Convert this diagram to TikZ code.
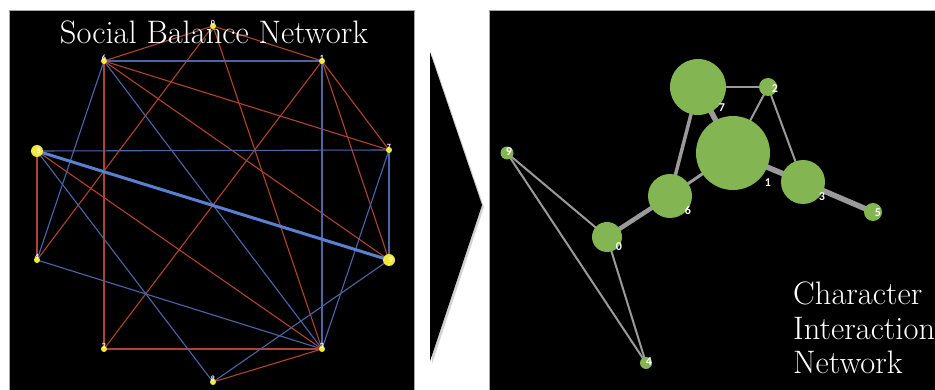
\documentclass[tikz,border=0pt]{standalone}
\usepackage{fontspec}
\setsansfont{Carlito}
\usetikzlibrary{calc}
\pgfdeclarelayer{bg}
\pgfdeclarelayer{edges}
\pgfsetlayers{bg,edges,main}
\definecolor{redE}{HTML}{B0432B}
\definecolor{blueE}{HTML}{4A66A8}
\definecolor{blueT}{HTML}{5A80D2}
\definecolor{ynode}{HTML}{F2EA3A}
\definecolor{gnode}{HTML}{84B553}
\definecolor{grayE}{HTML}{9A9A9A}
\tikzset{
  ynd/.style={circle,fill=ynode,inner sep=0pt,minimum size=6pt},
  ybig/.style={circle,fill=ynode,inner sep=0pt,minimum size=12pt},
  llab/.style={text=white,font=\sffamily\bfseries\fontsize{8}{8}\selectfont,inner sep=0pt},
  rlab/.style={text=white,font=\sffamily\bfseries\fontsize{12}{12}\selectfont,inner sep=0pt},
  gnd/.style={circle,fill=gnode,inner sep=0pt,minimum size=#1},
  re/.style={draw=redE,line width=1.1pt},
  be/.style={draw=blueE,line width=1.1pt},
  ge/.style={draw=grayE,line width=#1},
  ttl/.style={text=white,font=\fontsize{32.5}{34}\selectfont,inner sep=0pt},
}
\begin{document}
\begin{tikzpicture}[x=1pt,y=-1pt]
\useasboundingbox (0,0) rectangle (935,390);
\begin{pgfonlayer}{bg}
\fill[white] (0,0) rectangle (935,390);
\fill[black,draw=gray!70,line width=0.6pt] (9,10) rectangle (414,391);
\fill[black,draw=gray!70,line width=0.6pt] (489,10) rectangle (936,391);
\fill[gray!35] (432,55) -- (484,207) -- (432,364) -- cycle;
\fill[black] (430,52) -- (482,205) -- (430,361) -- cycle;
\end{pgfonlayer}
% left graph nodes
\node[ynd] (L0) at (213,26) {};
\node[ynd] (L6) at (104,61) {};
\node[ynd] (L1) at (322,61) {};
\node[ybig] (L5) at (37,151) {};
\node[ynd] (L7) at (389,150) {};
\node[ynd] (L4) at (37,260) {};
\node[ybig] (L9) at (389,260) {};
\node[ynd] (L2) at (104,349) {};
\node[ynd] (L3) at (322,349) {};
\node[ynd] (L8) at (213,382) {};
\foreach \n in {0,6,1,7,4,2,3,8}{\node[llab] (T\n) at ($(L\n)+(0,-3)$) {\n};}
\node[llab] (T5) at ($(L5)+(2,0)$) {5};
\node[llab] (T9) at ($(L9)+(2,0)$) {9};
\begin{pgfonlayer}{edges}
\foreach \a/\b in {0/6,0/1,0/4,0/3,6/2,6/7,6/9,1/2,1/7,1/9,5/4,5/3,2/3,8/3}
  {\draw[re] (L\a.center) -- (L\b.center);}
\foreach \a/\b in {6/1,6/4,6/3,1/3,5/7,5/8,7/9,7/3,4/3,8/9}
  {\draw[be] (L\a.center) -- (L\b.center);}
\draw[draw=blueT,line width=3pt] (L5.center) -- (L9.center);
\end{pgfonlayer}
\node[ttl,anchor=base] (title) at (214,44) {Social Balance Network};
% right graph
\node[gnd=56pt] (R7) at (698,87) {};
\node[gnd=18pt] (R2) at (768,87) {};
\node[gnd=74pt] (R1) at (733,153) {};
\node[gnd=44pt] (R3) at (803,182) {};
\node[gnd=13pt] (R9) at (507,153) {};
\node[gnd=44pt] (R6) at (670,196) {};
\node[gnd=30pt] (R0) at (607,237) {};
\node[gnd=12pt] (R4) at (646,363) {};
\node[gnd=18pt] (R5) at (873,212) {};
\node[rlab] (S7) at (722,108) {7};
\node[rlab] (S2) at (775,89) {2};
\node[rlab] (S1) at (768,183) {1};
\node[rlab] (S3) at (822,197) {3};
\node[rlab] (S9) at (509,152) {9};
\node[rlab] (S6) at (688,210) {6};
\node[rlab] (S0) at (619,247) {0};
\node[rlab] (S4) at (649,362) {4};
\node[rlab] (S5) at (878,213) {5};
\begin{pgfonlayer}{edges}
\foreach \a/\b/\w in {7/2/2pt,7/1/5.5pt,7/6/3.5pt,2/1/2pt,2/3/2pt,1/3/5.5pt,1/6/3pt,3/5/5.5pt,6/0/4.5pt,9/0/2pt,9/4/2pt,0/4/2pt}
  {\draw[ge=\w] (R\a.center) -- (R\b.center);}
\end{pgfonlayer}
\node[ttl,anchor=base west] (c1) at (793,305) {Character};
\node[ttl,anchor=base west] (c2) at (793,339) {Interaction};
\node[ttl,anchor=base west] (c3) at (793,373) {Network};
\end{tikzpicture}
\end{document}
